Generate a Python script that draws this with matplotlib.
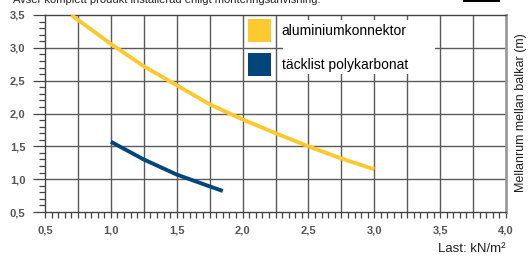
import numpy as np
import matplotlib.pyplot as plt
from matplotlib.patches import Patch, Rectangle
from matplotlib.ticker import MultipleLocator

plt.rcParams['font.family'] = ['Liberation Sans', 'DejaVu Sans']

# aluminiumkonnektor
alu_x = [0.7, 1.0, 1.25, 1.5, 1.75, 2.0, 2.25, 2.5, 2.75, 3.0]
alu_y = [3.5, 3.06, 2.72, 2.43, 2.14, 1.91, 1.70, 1.50, 1.315, 1.15]
# täcklist polykarbonat
poly_x = [1.0, 1.25, 1.5, 1.75, 1.85]
poly_y = [1.57, 1.30, 1.07, 0.89, 0.82]

labels = ['aluminiumkonnektor', 'täcklist polykarbonat']
colors = ['#fec82f', '#01457a']

x_ticks = [0.5, 1.0, 1.5, 2.0, 2.5, 3.0, 3.5, 4.0]
x_tick_labels = ['0,5', '1,0', '1,5', '2,0', '2,5', '3,0', '3,5', '4,0']
y_ticks = [0.5, 1.0, 1.5, 2.0, 2.5, 3.0, 3.5]
y_tick_labels = ['0,5', '1,0', '1,5', '2,0', '2,5', '3,0', '3,5']

fig = plt.figure(figsize=(5.3, 2.57), dpi=100)
ax = fig.add_axes([45/530, 1-212/257, 461/530, 197/257])

ax.set_xlim(0.5, 4.0)
ax.set_ylim(0.5, 3.5)

# grid every 0.25 (x) / 0.5 (y)
ax.set_axisbelow(True)
for gx in np.arange(0.75, 4.0, 0.25):
    ax.axvline(gx, color='#5a5a5a', lw=1.0, zorder=0.5)
for gy in np.arange(1.0, 3.5, 0.5):
    ax.axhline(gy, color='#5a5a5a', lw=1.0, zorder=0.5)

# white area behind legend text
ax.add_patch(Rectangle((0.516, 0.70), 0.33, 0.275, transform=ax.transAxes,
                       facecolor='white', edgecolor='none', zorder=1.5))

ax.plot(alu_x, alu_y, color=colors[0], lw=2.8, solid_capstyle='butt', zorder=3)
ax.plot(poly_x, poly_y, color=colors[1], lw=2.8, solid_capstyle='butt', zorder=3)

ax.set_xticks(x_ticks)
ax.set_xticklabels(x_tick_labels)
ax.set_yticks(y_ticks)
ax.set_yticklabels(y_tick_labels)
ax.xaxis.set_minor_locator(MultipleLocator(0.05))
ax.yaxis.set_minor_locator(MultipleLocator(0.1))
ax.tick_params(axis='x', which='both', direction='out', length=4, width=0.9,
               color='#444444', pad=6)
ax.tick_params(axis='y', which='major', direction='out', length=9, width=0.9,
               color='#444444', pad=5)
ax.tick_params(axis='y', which='minor', direction='out', length=4.5, width=0.9,
               color='#444444')
for lab in ax.get_xticklabels() + ax.get_yticklabels():
    lab.set_fontweight('bold')
    lab.set_fontsize(8)
    lab.set_color('#555555')

for s in ['left', 'bottom', 'top']:
    ax.spines[s].set_color('#444444')
    ax.spines[s].set_linewidth(1.0)
ax.spines['right'].set_color('#9a9a9a')
ax.spines['right'].set_linewidth(2.0)

handles = [Patch(facecolor=c, edgecolor='none') for c in colors]
ax.legend(handles, labels, loc='upper left', bbox_to_anchor=(0.44, 0.98),
          frameon=False, fontsize=10, handlelength=1.65, handleheight=2.17,
          handletextpad=0.8, labelspacing=0.78, borderpad=0, borderaxespad=0)

fig.text(506/530, 1-249/257, 'Last: kN/m²', ha='right', va='center',
         fontsize=9.5, color='#222222')
fig.text(521/530, 1-113/257, 'Mellanrum mellan balkar (m)', rotation=90,
         ha='center', va='center', fontsize=9, color='#222222')
fig.text(13/530, 1-3/257, 'Avser komplett produkt installerad enligt monteringsanvisning.',
         ha='left', va='baseline', fontsize=8, color='#222222')
fig.patches.append(Rectangle((463/530, 1-2/257), 37/530, 3/257,
                             transform=fig.transFigure, facecolor='black',
                             edgecolor='none'))

plt.savefig('out.png', dpi=100)
